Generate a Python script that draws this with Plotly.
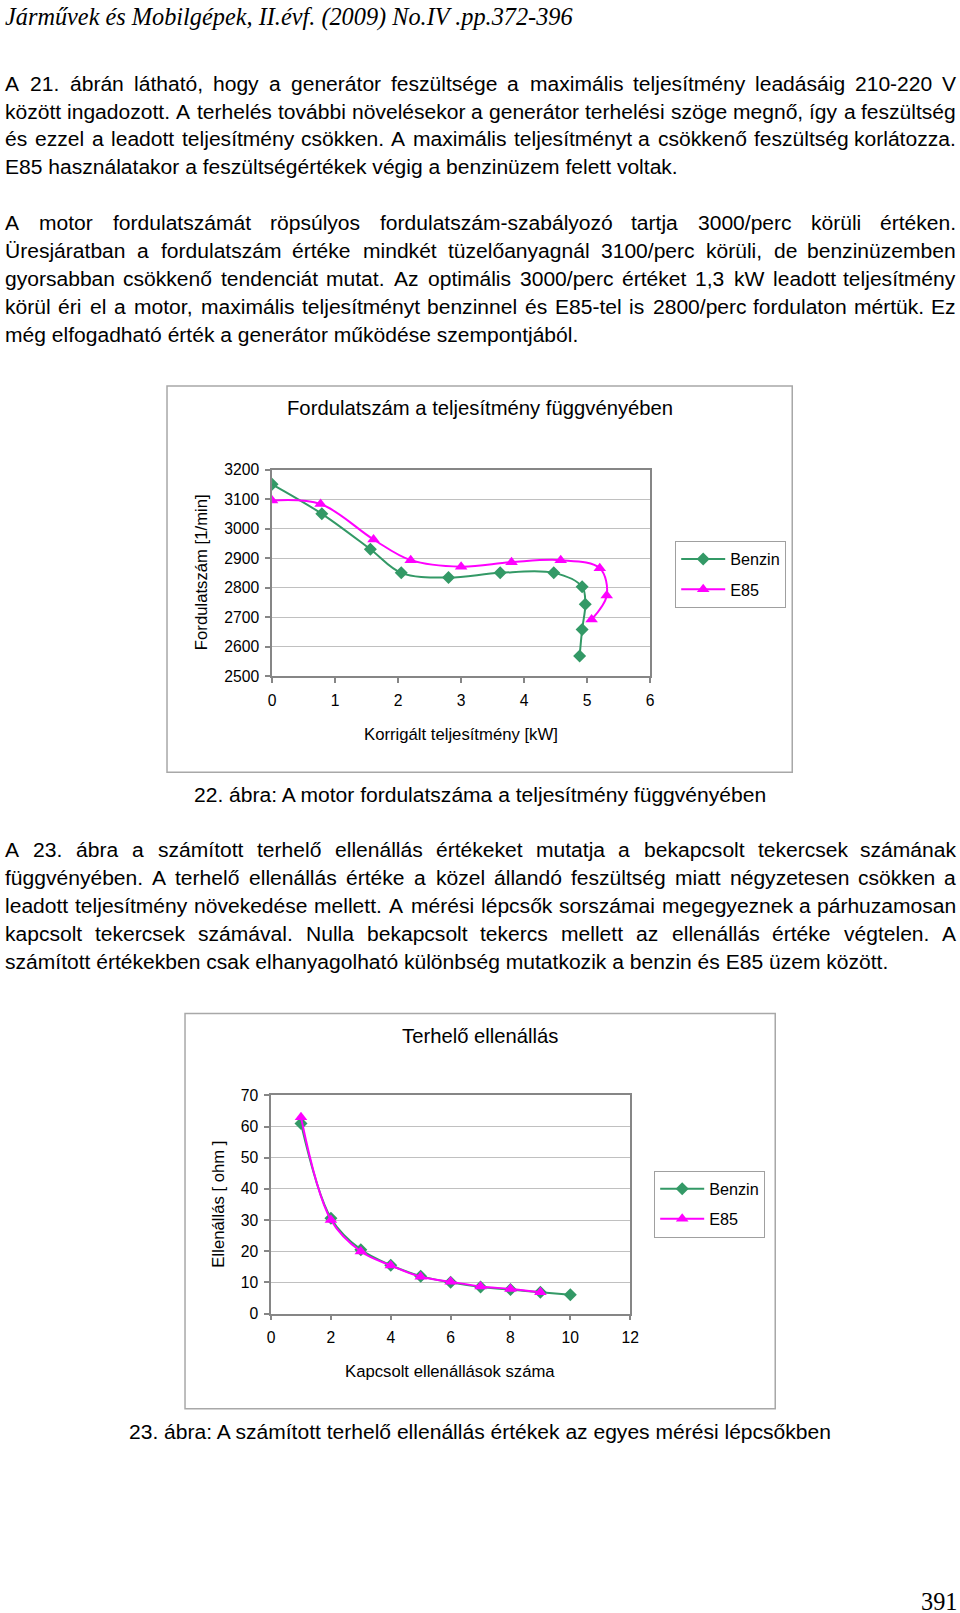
import plotly.graph_objects as go

# ---------------- data ----------------
power_benzin = [0.00, 0.79, 1.56, 2.05, 2.80, 3.62, 4.47, 4.92, 4.97, 4.92, 4.88]
rpm_benzin = [3150, 3050, 2930, 2850, 2834, 2850, 2850, 2803, 2744, 2658, 2568]
power_e85 = [0.00, 0.77, 1.61, 2.20, 3.00, 3.80, 4.58, 5.20, 5.31, 5.07]
rpm_e85 = [3095, 3083, 2963, 2893, 2871, 2886, 2893, 2866, 2773, 2692]

steps_benzin = [1, 2, 3, 4, 5, 6, 7, 8, 9, 10]
res_benzin = [61.0, 30.6, 20.5, 15.5, 12.0, 10.0, 8.5, 7.7, 6.8, 6.0]
steps_e85 = [1, 2, 3, 4, 5, 6, 7, 8, 9]
res_e85 = [63.0, 30.0, 19.9, 15.4, 11.8, 10.2, 8.7, 7.9, 6.8]

header_text = "Járművek és Mobilgépek, II.évf. (2009) No.IV .pp.372-396"
para1 = [
    "A 21. ábrán látható, hogy a generátor feszültsége a maximális teljesítmény leadásáig 210-220 V",
    "között ingadozott. A terhelés további növelésekor a generátor terhelési szöge megnő, így a feszültség",
    "és ezzel a leadott teljesítmény csökken. A maximális teljesítményt a csökkenő feszültség korlátozza.",
    "E85 használatakor a feszültségértékek végig a benzinüzem felett voltak.",
]
para2 = [
    "A motor fordulatszámát röpsúlyos fordulatszám-szabályozó tartja 3000/perc körüli értéken.",
    "Üresjáratban a fordulatszám értéke mindkét tüzelőanyagnál 3100/perc körüli, de benzinüzemben",
    "gyorsabban csökkenő tendenciát mutat. Az optimális 3000/perc értéket 1,3 kW leadott teljesítmény",
    "körül éri el a motor, maximális teljesítményt benzinnel és E85-tel is 2800/perc fordulaton mértük. Ez",
    "még elfogadható érték a generátor működése szempontjából.",
]
para3 = [
    "A 23. ábra a számított terhelő ellenállás értékeket mutatja a bekapcsolt tekercsek számának",
    "függvényében. A terhelő ellenállás értéke a közel állandó feszültség miatt négyzetesen csökken a",
    "leadott teljesítmény növekedése mellett. A mérési lépcsők sorszámai megegyeznek a párhuzamosan",
    "kapcsolt tekercsek számával. Nulla bekapcsolt tekercs mellett az ellenállás értéke végtelen. A",
    "számított értékekben csak elhanyagolható különbség mutatkozik a benzin és E85 üzem között.",
]
caption22 = "22. ábra: A motor fordulatszáma a teljesítmény függvényében"
caption23 = "23. ábra: A számított terhelő ellenállás értékek az egyes mérési lépcsőkben"
page_no = "391"

# ---------------- helpers ----------------
# Positions below are given in window pixels; the page shows the figure slightly
# scaled and offset, so they are mapped back into figure pixels here.
SX, BX = 0.9862, 4.05
SY, BY = 0.9887, 9.36
W, H = 968, 1622
def X(px):
    return ((px - BX) / SX) / W
def Y(py):
    return 1 - ((py - BY) / SY) / H
def FS(size):
    return size / ((SX + SY) / 2)

SANS = "Liberation Sans, Arial, sans-serif"
SERIF = "Liberation Serif, Times New Roman, serif"
GREEN = "#339966"
MAGENTA = "#FF00FF"
AXIS = "#868686"
GRID = "#C0C0C0"

AW = {' ': 278, '!': 278, ',': 278, '-': 333, '.': 278, '/': 278, ':': 278, '(': 333, ')': 333,
      '[': 278, ']': 278}
for c in '0123456789':
    AW[c] = 556
AW.update(dict(A=667, B=667, C=722, D=722, E=667, F=611, G=778, H=722, I=278, J=500, K=667,
               L=556, M=833, N=722, O=778, P=667, Q=778, R=722, S=667, T=611, U=722, V=667,
               W=944, X=667, Y=667, Z=611))
AW.update(dict(a=556, b=556, c=500, d=556, e=556, f=278, g=556, h=556, i=222, j=222, k=500,
               l=222, m=833, n=556, o=556, p=556, q=556, r=333, s=500, t=278, u=556, v=500,
               w=722, x=500, y=500, z=500))
for c in 'áéóöőúüű':
    AW[c] = 556
AW['í'] = 278
AW['Ü'] = 722
AW['É'] = 667
AW['Ö'] = 778

def tw(s, fs):
    return sum(AW.get(c, 556) for c in s) * fs / 1000.0

annotations = []
BODY_FS = 20.8
LEFT, RIGHT = 5, 956

def ann(x, y, text, fs, anchor='left', family=SANS, angle=0, color='black'):
    annotations.append(dict(x=X(x), y=Y(y), xref='paper', yref='paper', text=text,
                            showarrow=False, xanchor=anchor, yanchor='middle',
                            textangle=angle, borderpad=0, borderwidth=0,
                            font=dict(family=family, size=FS(fs), color=color)))

def body_line(text, yc, justify):
    words = text.split(' ')
    if not justify or len(words) == 1:
        ann(LEFT, yc, text, BODY_FS)
        return
    widths = [tw(w, BODY_FS) for w in words]
    gap = (RIGHT - LEFT - sum(widths)) / (len(words) - 1)
    x = LEFT
    for i, (w, wd) in enumerate(zip(words, widths)):
        if i == len(words) - 1:
            ann(RIGHT, yc, w, BODY_FS, anchor='right')
        else:
            ann(x, yc, w, BODY_FS)
        x += wd + gap

LS = 27.8
def paragraph(lines, y0):
    for i, t in enumerate(lines):
        body_line(t, y0 + i * LS, i < len(lines) - 1)

ann(5, 17.5, "<i>" + header_text + "</i>", 24, family=SERIF)
paragraph(para1, 83.5)
paragraph(para2, 223)
ann(480, 794.5, caption22, BODY_FS, anchor='center')
paragraph(para3, 849.5)
ann(480, 1430.5, caption23, BODY_FS, anchor='center')
ann(957, 1601, page_no, 24, anchor='right', family=SERIF)

# chart texts
ann(480, 408, "Fordulatszám a teljesítmény függvényében", 20, anchor='center')
ann(201, 572, "Fordulatszám [1/min]", 16.5, anchor='center', angle=-90)
ann(461, 734, "Korrigált teljesítmény [kW]", 16.5, anchor='center')
ann(479.5, 1036, "Terhelő ellenállás", 20, anchor='center')
ann(219, 1204, "Ellenállás [ ohm ]", 16.5, anchor='center', angle=-90)
ann(450, 1370.5, "Kapcsolt ellenállások száma", 16.5, anchor='center')

# ---------------- figure ----------------
fig = go.Figure()

fig.add_trace(go.Scatter(x=power_benzin, y=rpm_benzin, name="Benzin", mode='lines+markers',
                         line=dict(color=GREEN, width=2, shape='spline', smoothing=1),
                         marker=dict(symbol='diamond', size=10, color=GREEN),
                         xaxis='x', yaxis='y', legend='legend', legendgroup='a'))
fig.add_trace(go.Scatter(x=power_e85, y=rpm_e85, name="E85", mode='lines+markers',
                         line=dict(color=MAGENTA, width=2, shape='spline', smoothing=1),
                         marker=dict(symbol='triangle-up', size=11, color=MAGENTA),
                         xaxis='x', yaxis='y', legend='legend', legendgroup='b'))
fig.add_trace(go.Scatter(x=steps_benzin, y=res_benzin, name="Benzin", mode='lines+markers',
                         line=dict(color=GREEN, width=2, shape='spline', smoothing=1),
                         marker=dict(symbol='diamond', size=10, color=GREEN),
                         xaxis='x2', yaxis='y2', legend='legend2', legendgroup='c'))
fig.add_trace(go.Scatter(x=steps_e85, y=res_e85, name="E85", mode='lines+markers',
                         line=dict(color=MAGENTA, width=2, shape='spline', smoothing=1),
                         marker=dict(symbol='triangle-up', size=11, color=MAGENTA),
                         xaxis='x2', yaxis='y2', legend='legend2', legendgroup='d'))

tickfont = dict(family=SANS, size=FS(15.5), color='black')
common_x = dict(showgrid=False, showline=True, linecolor=AXIS, linewidth=1.5, mirror=True,
                ticks='outside', ticklen=5, tickcolor=AXIS, tickwidth=1.5, zeroline=False,
                tickfont=tickfont, ticklabelstandoff=4, fixedrange=True)
common_y = dict(showgrid=True, gridcolor=GRID, gridwidth=1.2, showline=True, linecolor=AXIS,
                linewidth=1.5, mirror=True, ticks='outside', ticklen=5, tickcolor=AXIS,
                tickwidth=1.5, zeroline=False, tickfont=tickfont, ticklabelstandoff=3,
                fixedrange=True)

legend_common = dict(xanchor='left', yanchor='top', bgcolor='white', bordercolor='#A0A0A0',
                     borderwidth=1, tracegroupgap=6, itemwidth=44,
                     font=dict(family=SANS, size=FS(16), color='black'))

fig.update_layout(
    width=W, height=H, margin=dict(l=0, r=0, t=0, b=0),
    paper_bgcolor='white', plot_bgcolor='white', showlegend=True,
    xaxis=dict(domain=[X(272), X(650)], range=[0, 6], dtick=1, anchor='y', **common_x),
    yaxis=dict(domain=[Y(676), Y(469.5)], range=[2500, 3200], dtick=100, anchor='x', **common_y),
    xaxis2=dict(domain=[X(271), X(630)], range=[0, 12], dtick=2, anchor='y2', **common_x),
    yaxis2=dict(domain=[Y(1312.8), Y(1094.9)], range=[0, 70], dtick=10, anchor='x2', **common_y),
    legend=dict(x=X(675), y=Y(541), **legend_common),
    legend2=dict(x=X(654), y=Y(1170), **legend_common),
    annotations=annotations,
    shapes=[
        dict(type='rect', xref='paper', yref='paper', x0=X(167), x1=X(792), y0=Y(772), y1=Y(386),
             line=dict(color='#A8A8A8', width=1.5), layer='below'),
        dict(type='rect', xref='paper', yref='paper', x0=X(185), x1=X(775), y0=Y(1408), y1=Y(1013),
             line=dict(color='#A8A8A8', width=1.5), layer='below'),
    ],
)

fig.write_html("out.html")
